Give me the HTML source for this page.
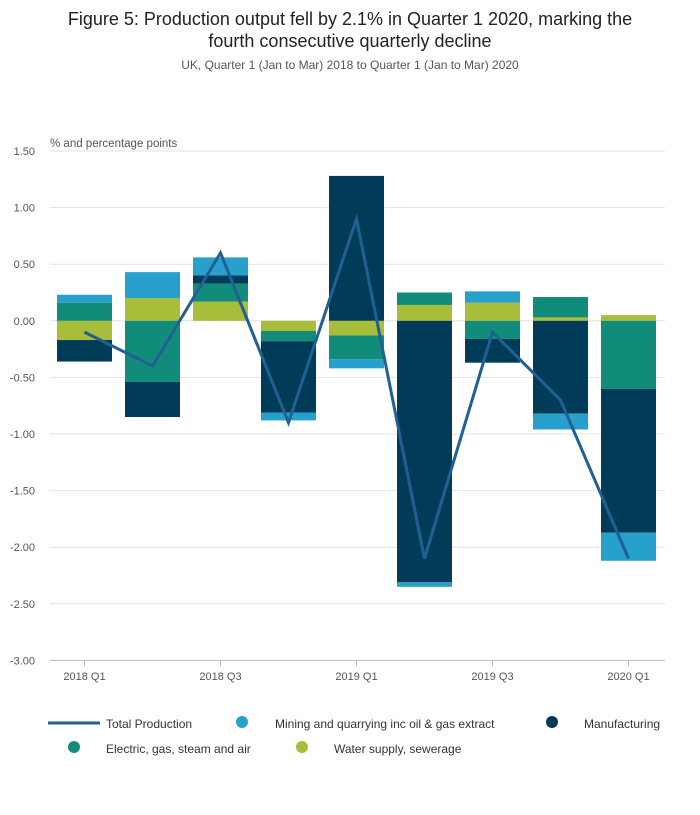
<!DOCTYPE html>
<html><head><meta charset="utf-8"><style>
body{margin:0;background:#fff;font-family:"Liberation Sans",sans-serif}
</style></head><body>
<svg width="700" height="810" xmlns="http://www.w3.org/2000/svg">
<text x="350" y="25" text-anchor="middle" font-size="18" fill="#222">Figure 5: Production output fell by 2.1% in Quarter 1 2020, marking the</text>
<text x="350" y="47" text-anchor="middle" font-size="18" fill="#222">fourth consecutive quarterly decline</text>
<text x="350" y="69" text-anchor="middle" font-size="12" fill="#555">UK, Quarter 1 (Jan to Mar) 2018 to Quarter 1 (Jan to Mar) 2020</text>
<text x="50" y="147" font-size="11.5" fill="#555">% and percentage points</text>
<g id="grid"></g><g id="bars"></g><g id="line"></g><g id="axis"></g>
<g font-size="12" fill="#333">
<line x1="48" y1="723" x2="100" y2="723" stroke="#206095" stroke-width="3"/>
<text x="106" y="728">Total Production</text>
<circle cx="242" cy="722" r="6" fill="#27a0cc"/>
<text x="275" y="728">Mining and quarrying inc oil &amp; gas extract</text>
<circle cx="552" cy="722" r="6" fill="#003c57"/>
<text x="584" y="728">Manufacturing</text>
<circle cx="74" cy="747" r="6" fill="#118c7b"/>
<text x="106" y="753">Electric, gas, steam and air</text>
<circle cx="302" cy="747" r="6" fill="#a8bd3a"/>
<text x="334" y="753">Water supply, sewerage</text>
</g>
</svg>
<script>
const categories=["2018 Q1","2018 Q2","2018 Q3","2018 Q4","2019 Q1","2019 Q2","2019 Q3","2019 Q4","2020 Q1"];
const mining=[0.07,0.23,0.16,-0.07,-0.08,-0.04,0.10,-0.14,-0.25];
const manufacturing=[-0.19,-0.31,0.07,-0.63,1.28,-2.31,-0.21,-0.82,-1.27];
const electric=[0.16,-0.54,0.16,-0.09,-0.21,0.11,-0.16,0.18,-0.60];
const water=[-0.17,0.20,0.17,-0.09,-0.13,0.14,0.16,0.03,0.05];
const total=[-0.1,-0.4,0.6,-0.9,0.9,-2.1,-0.1,-0.7,-2.1];
const yTicks=[1.5,1.0,0.5,0,-0.5,-1.0,-1.5,-2.0,-2.5,-3.0];
const xLabelIdx=[0,2,4,6,8];
const NS="http://www.w3.org/2000/svg";
const y=v=>320.8-v*113.2;
const x=i=>84.5+i*68;
function mk(t,a,p){const e=document.createElementNS(NS,t);for(const k in a)e.setAttribute(k,a[k]);p.appendChild(e);return e;}
const grid=document.getElementById('grid'),axis=document.getElementById('axis'),bars=document.getElementById('bars'),line=document.getElementById('line');
yTicks.forEach(v=>{
 const l=mk('line',{x1:50,x2:665,y1:y(v),y2:y(v),stroke:v===-3?'#bbb':'#e2e2e2','stroke-width':1},grid);
 
 
 const t=mk('text',{x:35,y:y(v)+4,'text-anchor':'end','font-size':11,fill:'#555'},axis);
 t.textContent=v.toFixed(2);
 
 
});
xLabelIdx.forEach(i=>{
 const tk=mk('line',{x1:x(i),x2:x(i),y1:660,y2:666,stroke:'#bbb'},axis);
 
 
 const t=mk('text',{x:x(i),y:680,'text-anchor':'middle','font-size':11,fill:'#555'},axis);
 t.textContent=categories[i];
 
 
});
const series=[[manufacturing,'#003c57','manufacturing'],[electric,'#118c7b','electric'],[water,'#a8bd3a','water'],[mining,'#27a0cc','mining']];
// stacking order from zero outward matches reference: positive: water, electric, manufacturing, mining; negative: water, electric, manufacturing, mining
const order=[[water,'#a8bd3a','water'],[electric,'#118c7b','electric'],[manufacturing,'#003c57','manufacturing'],[mining,'#27a0cc','mining']];
categories.forEach((c,i)=>{
 let pos=0,neg=0;
 order.forEach(([arr,col,nm])=>{
  const v=arr[i];let a,b;
  if(v>=0){a=pos;b=pos+v;pos=b;}else{a=neg;b=neg+v;neg=b;}
  const r=mk('rect',{x:x(i)-27.5,width:55,y:Math.min(y(a),y(b)),height:Math.abs(y(a)-y(b)),fill:col},bars);
  
  
 });
});
const pl=mk('polyline',{points:total.map((v,i)=>x(i)+','+y(v)).join(' '),fill:'none',stroke:'#206095','stroke-width':3},line);


</script>
</body></html>
